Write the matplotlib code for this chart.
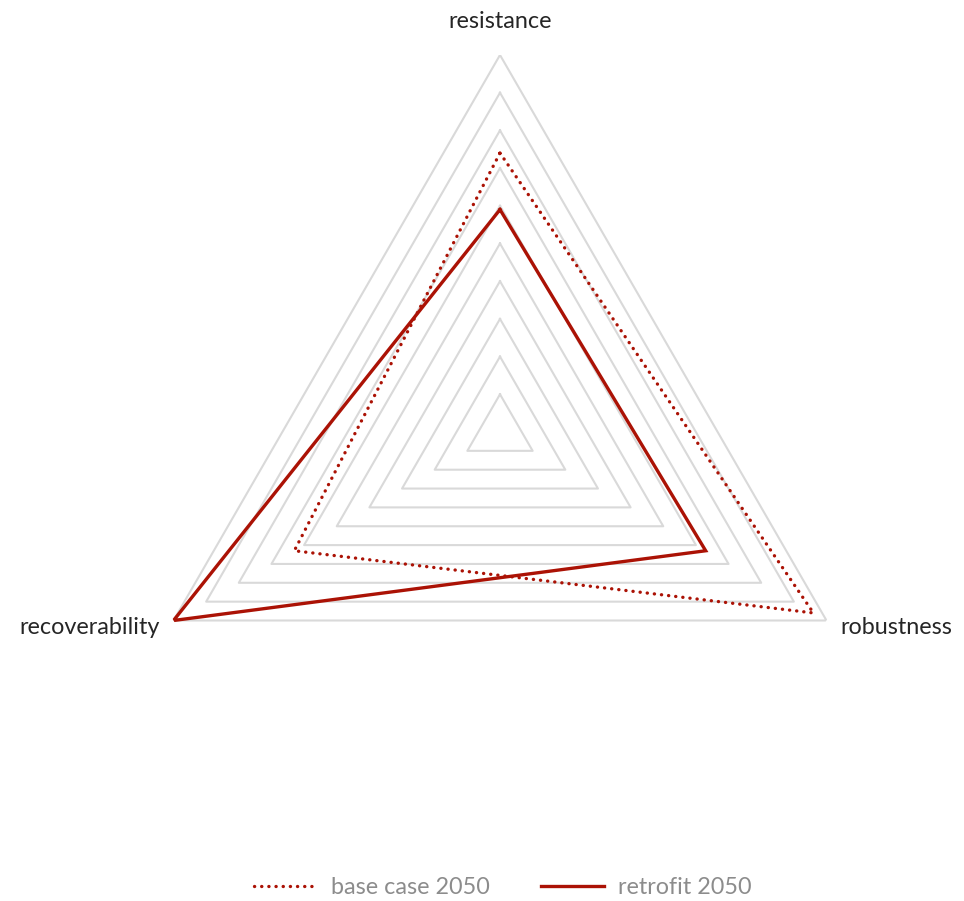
import numpy as np
import matplotlib
matplotlib.use('Agg')
import matplotlib.pyplot as plt

plt.rcParams['font.family'] = ['Lato', 'DejaVu Sans']

# データ
categories = ['resistance', 'robustness', 'recoverability']
base_case = [7.4, 9.6, 6.3]
retrofit = [5.9, 6.3, 10.0]
levels = list(range(1, 11))

W, H = 964, 901
fig = plt.figure(figsize=(W / 100, H / 100), dpi=100)

# 中心(500,432) 半径377px
cx, cy, R = 500, 432, 377
ax = fig.add_axes([(cx - R) / W, (H - cy - R) / H, 2 * R / W, 2 * R / H], projection='polar')
ax.set_theta_offset(np.pi / 2)
ax.set_theta_direction(-1)
ax.set_ylim(0, 10)
ax.set_xticks([])
ax.set_yticks([])
ax.grid(False)
ax.spines['polar'].set_visible(False)
ax.patch.set_visible(False)

angles = np.linspace(0, 2 * np.pi, len(categories), endpoint=False)
closed = np.concatenate([angles, angles[:1]])

#グリッドの三角形
for lv in levels:
    ax.plot(closed, [lv] * len(closed), color='#d9d9d9', lw=1.5, zorder=1)

red = '#ab1205'
ax.plot(closed, base_case + base_case[:1], color=red, lw=2.4,
        linestyle=(0, (0.05, 2.1)), dash_capstyle='round', zorder=3,
        label='base case 2050')
ax.plot(closed, retrofit + retrofit[:1], color=red, lw=2.4,
        solid_joinstyle='miter', zorder=4, label='retrofit 2050')

# 軸ラベル
fs = 16.8
tc = '#262626'
fig.text(500 / W, 1 - 21 / H, categories[0], ha='center', va='center', fontsize=fs, color=tc)
fig.text(840 / W, 1 - 628 / H, categories[1], ha='left', va='center', fontsize=fs, color=tc)
fig.text(160 / W, 1 - 628 / H, categories[2], ha='right', va='center', fontsize=fs, color=tc)

leg = fig.legend(loc='center', bbox_to_anchor=(503 / W, 1 - 888 / H), ncol=2,
                 frameon=False, fontsize=fs, handlelength=2.7, columnspacing=2.2,
                 handletextpad=0.6)
for t in leg.get_texts():
    t.set_color('#8c8c8c')

plt.savefig('out.png', dpi=100)
